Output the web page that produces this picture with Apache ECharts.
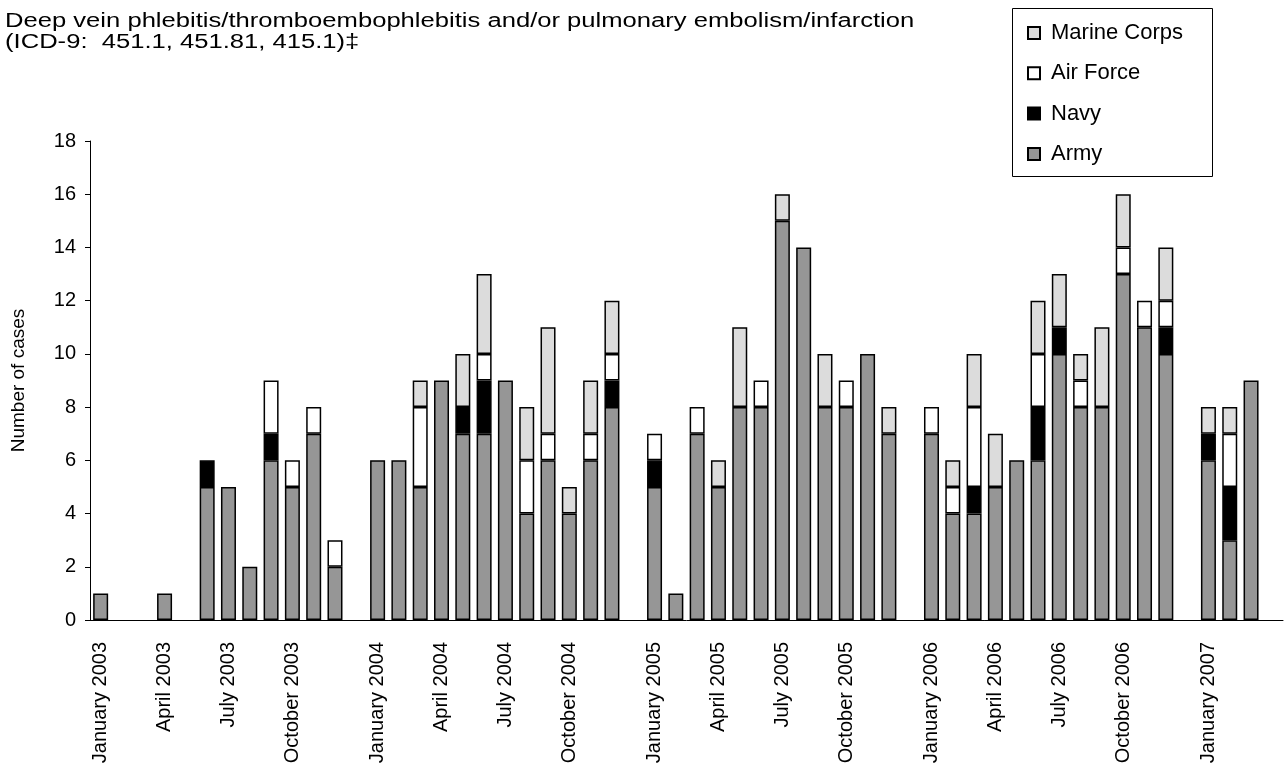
<!DOCTYPE html>
<html>
<head>
<meta charset="utf-8">
<script src="https://cdn.jsdelivr.net/npm/echarts@6/dist/echarts.min.js"></script>
<style>html,body{margin:0;padding:0;background:#fff;}#main{width:1287px;height:777px;}</style>
</head>
<body>
<div id="main"></div>
<script>
const categories = [
  'January 2003','February 2003','March 2003','April 2003','May 2003','June 2003','July 2003','August 2003','September 2003','October 2003','November 2003','December 2003','',
  'January 2004','February 2004','March 2004','April 2004','May 2004','June 2004','July 2004','August 2004','September 2004','October 2004','November 2004','December 2004','',
  'January 2005','February 2005','March 2005','April 2005','May 2005','June 2005','July 2005','August 2005','September 2005','October 2005','November 2005','December 2005','',
  'January 2006','February 2006','March 2006','April 2006','May 2006','June 2006','July 2006','August 2006','September 2006','October 2006','November 2006','December 2006','',
  'January 2007','February 2007','March 2007',''
];
const army = [
  1,0,0,1,0,5,5,2,6,5,7,2,null,
  6,6,5,9,7,7,9,4,6,4,6,8,null,
  5,1,7,5,8,8,15,14,8,8,10,7,null,
  7,4,4,5,6,6,10,8,8,13,11,10,null,
  6,3,9,null
];
const navy = [
  0,0,0,0,0,1,0,0,1,0,0,0,null,
  0,0,0,0,1,2,0,0,0,0,0,1,null,
  1,0,0,0,0,0,0,0,0,0,0,0,null,
  0,0,1,0,0,2,1,0,0,0,0,1,null,
  1,2,0,null
];
const airForce = [
  0,0,0,0,0,0,0,0,2,1,1,1,null,
  0,0,3,0,0,1,0,2,1,0,1,1,null,
  1,0,1,0,0,1,0,0,0,1,0,0,null,
  1,1,3,0,0,2,0,1,0,1,1,1,null,
  0,2,0,null
];
const marineCorps = [
  0,0,0,0,0,0,0,0,0,0,0,0,null,
  0,0,1,0,2,3,0,2,4,1,2,2,null,
  0,0,0,1,3,0,1,0,2,0,0,1,null,
  0,1,2,2,0,2,2,1,3,2,0,2,null,
  1,1,0,null
];
const yTicks = {min: 0, max: 18, interval: 2};
const titleLines = ['Deep vein phlebitis/thromboembophlebitis and/or pulmonary embolism/infarction', '(ICD-9:  451.1, 451.81, 415.1)\u2021'];

const FONT = 'Liberation Sans';
const clean = arr => arr.map(v => (v === 0 ? null : v));
function mk(name, data, color) {
  return {
    name: name, type: 'bar', stack: 'total', data: clean(data),
    barWidth: 15,
    itemStyle: {color: color, borderColor: '#000', borderWidth: 1.5},
    emphasis: {disabled: true}
  };
}
const chart = echarts.init(document.getElementById('main'), null, {renderer: 'canvas'});
chart.setOption({
  animation: false,
  backgroundColor: '#fff',
  textStyle: {fontFamily: FONT},
  graphic: [
    {type: 'text', x: 5, y: 11, scaleX: 1.28, originX: 0, originY: 0,
     style: {text: titleLines.join('\n'), fontFamily: FONT, fontSize: 20, lineHeight: 21, fill: '#000', verticalAlign: 'top', align: 'left'}},
    {type: 'rect', shape: {x: 1012.5, y: 8.5, width: 200, height: 168}, style: {fill: 'none', stroke: '#000', lineWidth: 1}}
  ],
  legend: {
    orient: 'vertical', left: 1012, top: 8, padding: [14, 10, 13, 15],
    itemWidth: 12, itemHeight: 12, itemGap: 18.3, icon: 'rect',
    data: ['Marine Corps', 'Air Force', 'Navy', 'Army'],
    textStyle: {fontFamily: FONT, fontSize: 22, color: '#000', padding: [0, 0, 0, 6]}
  },
  grid: {left: 90, right: 4, top: 141, bottom: 157, containLabel: false},
  xAxis: {
    type: 'category', data: categories,
    axisLine: {lineStyle: {color: '#000', width: 1}},
    axisTick: {interval: 0, length: 5, inside: false, lineStyle: {color: '#000'}},
    axisLabel: {
      interval: (i, v) => /^(January|April|July|October)/.test(v),
      rotate: 90, margin: 22, color: '#000', fontFamily: FONT, fontSize: 20
    }
  },
  yAxis: {
    type: 'value', min: yTicks.min, max: yTicks.max, interval: yTicks.interval,
    name: 'Number of cases', nameLocation: 'middle', nameGap: 62,
    nameTextStyle: {fontFamily: FONT, fontSize: 19, color: '#000'},
    axisLine: {show: true, lineStyle: {color: '#000', width: 1}},
    axisTick: {show: true, length: 5, lineStyle: {color: '#000'}},
    axisLabel: {margin: 14, color: '#000', fontFamily: FONT, fontSize: 20},
    splitLine: {show: false}
  },
  series: [
    mk('Army', army, '#969696'),
    mk('Navy', navy, '#000000'),
    mk('Air Force', airForce, '#ffffff'),
    mk('Marine Corps', marineCorps, '#dcdcdc')
  ]
});
</script>
</body>
</html>
